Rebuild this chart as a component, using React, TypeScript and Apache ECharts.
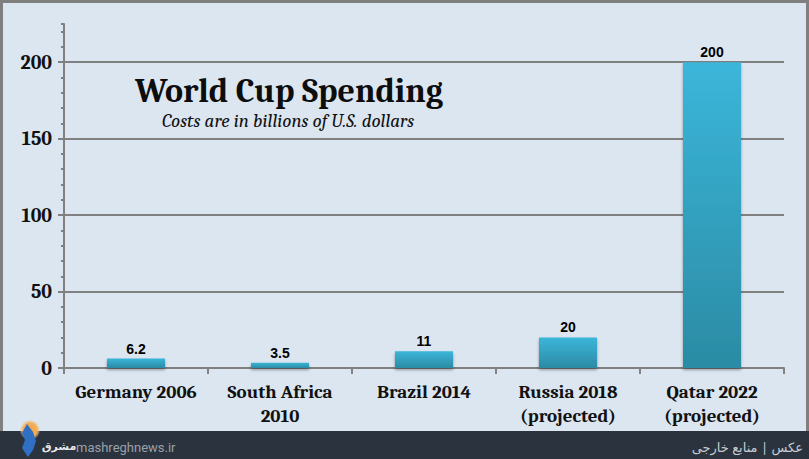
import React, { useEffect, useRef } from "react";
import * as echarts from "echarts";

const categories = ["Germany 2006", "South Africa\n2010", "Brazil 2014", "Russia 2018\n(projected)", "Qatar 2022\n(projected)"];
const costs = [6.2, 3.5, 11, 20, 200];
const yMajorTicks = [0, 50, 100, 150, 200];
const titleText = "World Cup Spending";
const subtitleText = "Costs are in billions of U.S. dollars";
const siteText = "mashreghnews.ir";
const creditText = "عکس | منابع خارجی";
const logoText = "مشرق";

export default function App() {
  const ref = useRef<HTMLDivElement>(null);
  useEffect(() => {
    if (!ref.current) return;
    const chart = echarts.init(ref.current, null, { renderer: "svg" });
    const serif = "Cambria, 'Liberation Serif', 'DejaVu Serif', serif";
    const gray = "#808080";
    chart.setOption({
      animation: false,
      backgroundColor: "#7f7f7f",
      graphic: [
        { type: "rect", z: -10, silent: true, shape: { x: 3, y: 3, width: 803, height: 430 }, style: { fill: "#dce6f1" } },
        { type: "rect", z: -10, silent: true, shape: { x: 0, y: 431, width: 809, height: 28 }, style: { fill: "#2b333e" } },
        {
          type: "text", z: 10, x: 289, y: 91,
          style: {
            text: titleText, align: "center", verticalAlign: "middle",
            font: "bold 34px " + serif, fill: "#0d0d0d",
            shadowColor: "rgba(0,0,0,0.55)", shadowBlur: 5, shadowOffsetX: 2, shadowOffsetY: 3,
          },
        },
        {
          type: "text", z: 10,
          x: 288, y: 121,
          style: { text: subtitleText, align: "center", verticalAlign: "middle", font: "italic 19px " + serif, fill: "#111" },
        },
        {
          type: "circle", z: 10, shape: { cx: 30, cy: 430, r: 10 },
          style: {
            fill: new echarts.graphic.RadialGradient(0.5, 0.5, 0.5, [
              { offset: 0, color: "#f6a33a" },
              { offset: 0.7, color: "#f0b060" },
              { offset: 1, color: "rgba(240,200,140,0.2)" },
            ]),
          },
        },
        {
          type: "polygon", z: 11,
          shape: { points: [[27, 424], [33, 432], [36, 441], [33, 450], [28, 457], [22, 448], [25, 440], [22, 433]] },
          style: { fill: "#2f6fc4" },
        },
        {
          type: "text", z: 11, x: 59, y: 446,
          style: { text: logoText, align: "center", verticalAlign: "middle", font: "bold 11px 'DejaVu Sans', sans-serif", fill: "#e8e8e8" },
        },
        {
          type: "text", z: 11, x: 76, y: 447,
          style: { text: siteText, align: "left", verticalAlign: "middle", font: "13px 'Roboto', sans-serif", fill: "#9aa0a8" },
        },
        {
          type: "text", z: 11, x: 803, y: 447,
          style: { text: creditText, align: "right", verticalAlign: "middle", font: "13px 'Noto Sans', 'DejaVu Sans', sans-serif", fill: "#c8ccd2" },
        },
      ],
      grid: { left: 64, right: 25, top: 24, bottom: 91, containLabel: false },
      xAxis: {
        type: "category",
        data: categories,
        axisLine: { show: true, lineStyle: { color: gray, width: 2 } },
        axisTick: { show: true, alignWithLabel: false, length: 6, lineStyle: { color: gray, width: 2 } },
        axisLabel: { color: "#111", fontFamily: serif, fontWeight: "bold", fontSize: 19, margin: 12, lineHeight: 24, interval: 0 },
      },
      yAxis: [
        {
          type: "value", min: 0, max: 225, interval: 50,
          axisLine: { show: true, lineStyle: { color: gray, width: 2 } },
          axisTick: { show: true, length: 6, lineStyle: { color: gray, width: 2 } },
          axisLabel: {
            showMaxLabel: false, color: "#111", fontFamily: serif, fontWeight: "bold", fontSize: 20, margin: 12,
            formatter: (v: number) => (yMajorTicks.includes(v) ? String(v) : ""),
          },
          splitLine: { show: true, showMaxLine: false, showMinLine: false, lineStyle: { color: gray, width: 2 } },
        },
        {
          type: "value", min: 0, max: 225, interval: 10, position: "left",
          axisLine: { show: false },
          axisTick: { show: true, length: 3, lineStyle: { color: gray, width: 2 } },
          axisLabel: { show: false },
          splitLine: { show: false },
        },
      ],
      series: [
        {
          type: "bar",
          yAxisIndex: 0,
          data: costs,
          barWidth: 58,
          itemStyle: {
            color: new echarts.graphic.LinearGradient(0, 0, 0, 1, [
              { offset: 0, color: "#3bb6da" },
              { offset: 1, color: "#2b8ba4" },
            ]),
            shadowColor: "rgba(0,0,0,0.35)", shadowBlur: 3, shadowOffsetY: 2,
          },
          label: {
            show: true, position: "top", distance: 3,
            color: "#000", fontFamily: "'Liberation Sans', Arial, sans-serif", fontWeight: "bold", fontSize: 14,
          },
        },
      ],
    });
    return () => chart.dispose();
  }, []);
  return <div ref={ref} style={{ position: "absolute", left: 0, top: 0, width: 809, height: 459 }} />;
}
